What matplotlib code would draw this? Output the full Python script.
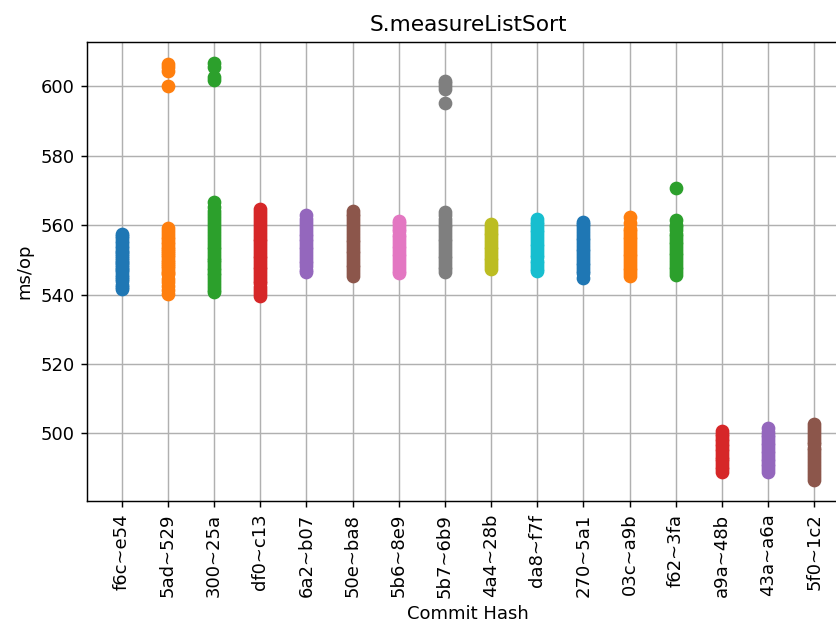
import matplotlib
matplotlib.use("Agg")
import matplotlib.pyplot as plt

commits = ["f6c~e54", "5ad~529", "300~25a", "df0~c13", "6a2~b07", "50e~ba8",
           "5b6~8e9", "5b7~6b9", "4a4~28b", "da8~f7f", "270~5a1", "03c~a9b",
           "f62~3fa", "a9a~48b", "43a~a6a", "5f0~1c2"]

v_f6c = [541.6, 542.3, 542.9, 543.8, 544.5, 545.1, 545.6, 546.4, 547.0, 547.3, 547.9,
         548.6, 549.0, 549.4, 550.1, 550.5, 551.2, 551.8, 552.3, 552.6, 553.4, 554.1,
         554.9, 555.3, 556.2, 556.8, 557.6]
v_5ad = [540.3, 541.2, 542.4, 543.5, 544.6, 545.8, 546.3, 546.9, 547.6, 548.2, 548.8,
         549.5, 550.0, 550.7, 551.3, 551.9, 552.6, 553.2, 553.8, 554.5, 555.1, 555.9,
         556.6, 557.4, 558.3, 559.1, 600.0, 604.5, 605.6, 606.6]
v_300 = [540.6, 541.3, 542.2, 543.0, 543.9, 544.7, 545.5, 546.2, 547.1, 547.8, 548.4,
         549.3, 550.0, 550.6, 551.5, 552.3, 553.1, 553.8, 554.7, 555.4, 556.2, 557.1,
         558.0, 558.9, 559.8, 560.7, 561.5, 562.4, 563.3, 564.1, 565.2, 566.6,
         601.9, 602.6, 605.7, 606.8]
v_df0 = [539.7, 540.5, 541.4, 542.3, 543.2, 543.9, 544.8, 545.6, 546.5, 547.3, 548.0,
         548.9, 549.7, 550.4, 551.2, 552.1, 552.8, 553.6, 554.5, 555.3, 556.1, 557.0,
         557.8, 558.6, 559.5, 560.3, 561.2, 562.0, 562.9, 563.7, 564.8]
v_6a2 = [546.4, 547.2, 548.3, 549.1, 549.8, 550.6, 551.5, 552.2, 553.0, 553.7, 554.5,
         555.3, 556.0, 556.9, 557.6, 558.4, 559.1, 560.0, 560.8, 561.7, 562.8]
v_50e = [545.4, 546.1, 547.0, 547.9, 548.6, 549.4, 550.3, 551.1, 551.9, 552.6, 553.5,
         554.3, 555.1, 555.8, 556.7, 557.5, 558.3, 559.2, 560.0, 560.9, 561.8, 562.6,
         563.3, 564.1]
v_5b6 = [546.1, 546.9, 547.8, 548.6, 549.3, 550.2, 551.0, 551.7, 552.6, 553.4, 554.1,
         555.0, 555.8, 556.6, 557.3, 558.2, 559.0, 559.8, 560.5, 561.3]
v_5b7 = [546.5, 547.3, 548.0, 548.9, 549.7, 550.5, 551.2, 552.1, 552.9, 553.7, 554.6,
         555.3, 556.1, 556.9, 557.8, 558.6, 559.4, 560.2, 561.0, 561.9, 562.8, 563.8,
         595.3, 599.2, 600.1, 600.9, 601.7]
v_4a4 = [547.5, 548.2, 549.0, 549.9, 550.6, 551.4, 552.3, 553.0, 553.8, 554.7, 555.4,
         556.2, 557.1, 557.8, 558.6, 559.5, 560.3]
v_da8 = [546.7, 547.4, 548.3, 549.1, 549.8, 550.7, 551.5, 552.3, 553.0, 553.9, 554.6,
         555.5, 556.3, 557.1, 557.9, 558.7, 559.4, 560.3, 561.0, 561.7]
v_270 = [544.8, 546.2, 546.9, 547.8, 548.4, 549.2, 550.0, 550.9, 551.6, 552.5, 553.2,
         554.0, 554.9, 555.7, 556.4, 557.3, 558.1, 558.8, 559.7, 560.4, 561.0]
v_03c = [545.4, 546.3, 547.1, 547.8, 548.6, 549.5, 550.3, 551.1, 551.8, 552.7, 553.5,
         554.2, 555.1, 555.9, 556.6, 557.5, 558.3, 559.0, 560.7, 562.4]
v_f62 = [545.6, 546.5, 547.3, 548.0, 548.9, 549.7, 550.4, 551.3, 552.1, 552.8, 553.7,
         554.5, 555.2, 556.1, 556.9, 557.6, 558.5, 559.4, 560.2, 561.6, 570.6]
v_a9a = [488.9, 489.6, 490.4, 491.1, 491.9, 492.6, 493.3, 494.1, 494.8, 495.5, 496.3,
         497.0, 497.7, 498.5, 499.2, 499.9, 500.7]
v_43a = [488.9, 489.7, 490.5, 491.2, 492.0, 492.7, 493.5, 494.2, 495.0, 495.8, 496.5,
         497.3, 498.0, 498.8, 499.5, 500.3, 501.4]
v_5f0 = [486.5, 487.4, 488.3, 489.1, 490.0, 490.8, 491.7, 492.5, 493.4, 494.2, 495.1,
         495.9, 496.8, 497.6, 498.5, 499.3, 500.2, 501.0, 501.8, 502.7]

series = [v_f6c, v_5ad, v_300, v_df0, v_6a2, v_50e, v_5b6, v_5b7,
          v_4a4, v_da8, v_270, v_03c, v_f62, v_a9a, v_43a, v_5f0]

dpi = 130
fig = plt.figure(figsize=(836 / dpi, 632 / dpi), dpi=dpi)
ax = fig.add_axes([87 / 836, 131 / 632, 762 / 836, 459 / 632])

for label, vals in zip(commits, series):
    ax.plot([label] * len(vals), vals, linestyle="none", marker="o", markersize=6.6)

ax.grid(True)
ax.set_title("S.measureListSort")
ax.set_xlabel("Commit Hash")
ax.set_ylabel("ms/op")
ax.tick_params(axis="x", labelrotation=90)

fig.savefig("out.png", dpi=dpi)
